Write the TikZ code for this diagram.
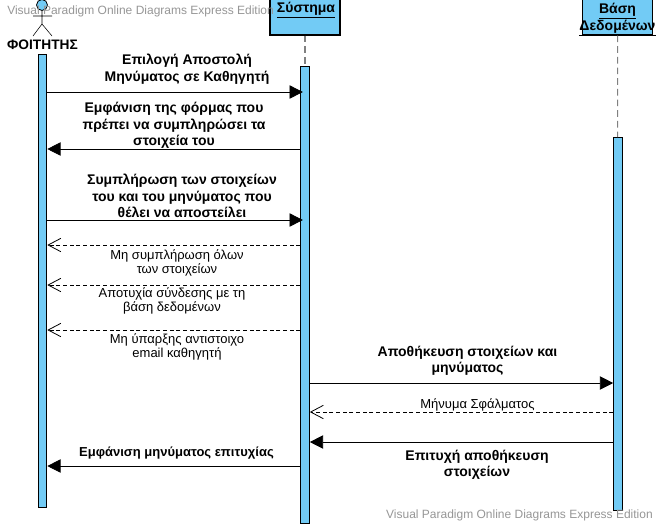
\documentclass[tikz,border=0pt]{standalone}
\usepackage{fontspec}
\setmainfont{Liberation Sans}
\usetikzlibrary{arrows.meta}
\definecolor{barblue}{RGB}{114,203,245}
\definecolor{markgray}{RGB}{150,150,150}
\tikzset{
  headbox/.style={draw,thick,fill=barblue,inner sep=0pt,minimum height=27pt},
  lifebar/.style={draw,thick,fill=barblue,inner sep=0pt,minimum width=6.4pt},
  lifeline/.style={gray,thick,dash pattern=on 5pt off 3pt},
  callmsg/.style={-{Triangle[length=10pt,width=10pt]},semithick},
  replymsg/.style={-{Straight Barb[length=9.5pt,width=10pt,line width=0.6pt]},densely dashed,line width=0.6pt},
  boldlabel/.style={font=\fontsize{10.5}{12.3}\selectfont\bfseries,align=center,inner sep=0pt},
  smalllabel/.style={font=\fontsize{9.75}{10.5}\selectfont,align=center,inner sep=0pt},
  watermark/.style={font=\fontsize{9}{11}\selectfont,text=markgray,inner sep=0pt}
}
\begin{document}
\begin{tikzpicture}[x=0.75pt,y=-0.75pt]
\useasboundingbox (0,0) rectangle (659,526);
% actor
\draw[semithick,fill=barblue] (42,5) circle (5.5);
\draw (42,10.5) -- (42,24) (33,16) -- (52,16) (33,36) -- (42,24) -- (52,36);
\node[font=\fontsize{10.3}{11}\selectfont\bfseries,inner sep=0pt] (student) at (42.5,45) {ΦΟΙΤΗΤΗΣ};
% heads
\node[headbox,minimum width=52.5pt] (system) at (305,17) {};
\node[headbox,minimum width=53pt] (database) at (617.5,17) {};
\node[boldlabel] (systemText) at (306,10) {\underline{Σύστημα}};
\node[boldlabel] (databaseText) at (617.5,19.5) {\underline{Βάση}\\[0.3pt]\underline{Δεδομένων}};
% lifelines and bars
\node[lifebar,minimum height=339.75pt,anchor=north] (barStudent) at (42.5,54) {};
\node[lifebar,minimum height=342.75pt,anchor=north] (barSystem) at (305,66) {};
\node[lifebar,minimum height=279.75pt,anchor=north] (barDatabase) at (618,137) {};
\draw[lifeline] (system) -- (barSystem);
\draw[lifeline] (database) -- (barDatabase);
% messages student - system
\draw[callmsg,shorten >=-2pt] (barStudent.east |- 0,92) -- (barSystem.west |- 0,92);
\draw[callmsg] (barSystem.west |- 0,149) -- (barStudent.east |- 0,149);
\draw[callmsg,shorten >=-2pt] (barStudent.east |- 0,220) -- (barSystem.west |- 0,220);
\draw[replymsg] (barSystem.west |- 0,245) -- (barStudent.east |- 0,245);
\draw[replymsg] (barSystem.west |- 0,285) -- (barStudent.east |- 0,285);
\draw[replymsg] (barSystem.west |- 0,330) -- (barStudent.east |- 0,330);
\draw[callmsg] (barSystem.west |- 0,466) -- (barStudent.east |- 0,466);
% messages system - database
\draw[callmsg] (barSystem.east |- 0,383) -- (barDatabase.west |- 0,383);
\draw[replymsg] (barDatabase.west |- 0,412) -- (barSystem.east |- 0,412);
\draw[callmsg] (barDatabase.west |- 0,442) -- (barSystem.east |- 0,442);
% labels
\node[boldlabel] (lblSelect) at (187,69) {Επιλογή Αποστολή\\Μηνύματος σε Καθηγητή};
\node[boldlabel] (lblForm) at (174,125.5) {Εμφάνιση της φόρμας που\\πρέπει να συμπληρώσει τα\\στοιχεία του};
\node[boldlabel] (lblFill) at (182,196) {Συμπλήρωση των στοιχείων\\του και του μηνύματος που\\θέλει να αποστείλει};
\node[smalllabel] (lblMissing) at (177,263) {Μη συμπλήρωση όλων\\των στοιχείων};
\node[smalllabel] (lblConnect) at (172,301) {Αποτυχία σύνδεσης με τη\\βάση δεδομένων};
\node[smalllabel] (lblEmail) at (177,347) {Μη ύπαρξης αντιστοιχο\\email καθηγητή};
\node[boldlabel] (lblStore) at (467.5,361) {Αποθήκευση στοιχείων και\\μηνύματος};
\node[smalllabel] (lblError) at (477.5,405) {Μήνυμα Σφάλματος};
\node[boldlabel] (lblStored) at (477,465) {Επιτυχή αποθήκευση\\στοιχείων};
\node[boldlabel,font=\fontsize{9.75}{12}\selectfont\bfseries] (lblSuccess) at (176.5,453) {Εμφάνιση μηνύματος επιτυχίας};
% watermarks
\node[watermark,anchor=west] (markTop) at (7,11) {Visual Paradigm Online Diagrams Express Edition};
\node[watermark,anchor=east] (markBottom) at (653,515) {Visual Paradigm Online Diagrams Express Edition};
\end{tikzpicture}
\end{document}
